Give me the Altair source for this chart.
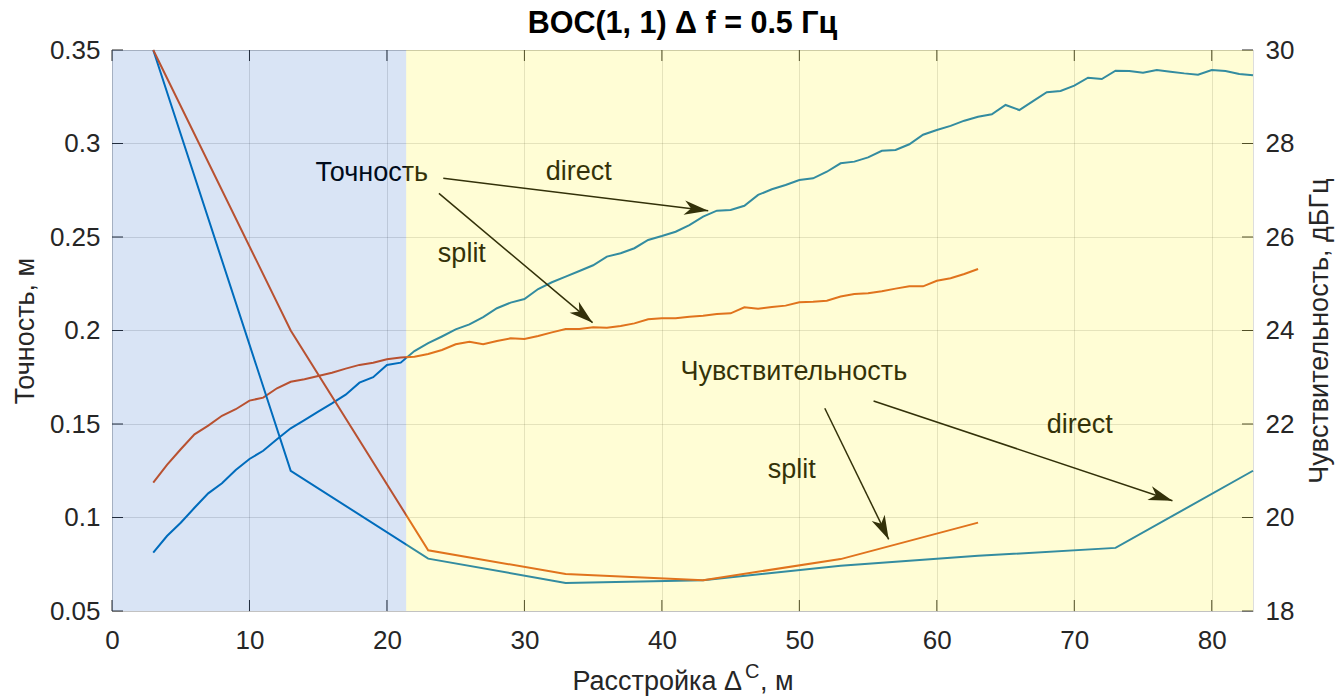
import math
import altair as alt
import pandas as pd

W, H = 1141, 561
FONT = "Liberation Sans"

# ---------------- data ----------------
acc_x_direct = list(range(3, 84))
acc_direct = [
    0.0812, 0.0901, 0.0972, 0.1052, 0.1129, 0.1183, 0.1254, 0.1313, 0.1357, 0.1418,
    0.1477, 0.1521, 0.1566, 0.1610, 0.1657, 0.1721, 0.1750, 0.1816, 0.1828, 0.1890,
    0.1932, 0.1968, 0.2006, 0.2033, 0.2072, 0.2119, 0.2149, 0.2168, 0.2222, 0.2258,
    0.2288, 0.2318, 0.2349, 0.2395, 0.2413, 0.2440, 0.2484, 0.2505, 0.2528, 0.2564,
    0.2609, 0.2641, 0.2644, 0.2667, 0.2725, 0.2755, 0.2778, 0.2805, 0.2814, 0.2849,
    0.2894, 0.2903, 0.2926, 0.2961, 0.2965, 0.2996, 0.3047, 0.3072, 0.3094, 0.3122,
    0.3143, 0.3156, 0.3206, 0.3179, 0.3227, 0.3274, 0.3281, 0.3309, 0.3352, 0.3345,
    0.3389, 0.3388, 0.3379, 0.3393, 0.3384, 0.3375, 0.3368, 0.3393, 0.3388, 0.3372,
    0.3365,
]
acc_x_split = list(range(3, 64))
acc_split = [
    0.1186, 0.1281, 0.1365, 0.1445, 0.1491, 0.1544, 0.1579, 0.1625, 0.1641, 0.1691,
    0.1726, 0.1739, 0.1757, 0.1774, 0.1796, 0.1816, 0.1828, 0.1846, 0.1855, 0.1860,
    0.1874, 0.1896, 0.1926, 0.1940, 0.1926, 0.1944, 0.1958, 0.1955, 0.1971, 0.1990,
    0.2008, 0.2008, 0.2017, 0.2015, 0.2024, 0.2038, 0.2060, 0.2065, 0.2065, 0.2074,
    0.2079, 0.2088, 0.2092, 0.2124, 0.2117, 0.2126, 0.2133, 0.2151, 0.2154, 0.2159,
    0.2182, 0.2195, 0.2199, 0.2210, 0.2224, 0.2236, 0.2236, 0.2266, 0.2279, 0.2302,
    0.2329,
]
sens_x_direct = [3, 13, 23, 33, 43, 53, 63, 73, 83]
sens_direct = [30.0, 21.0, 19.12, 18.6, 18.66, 18.97, 19.18, 19.35, 21.0]
sens_x_split = [3, 13, 23, 33, 43, 53, 63]
sens_split = [30.0, 24.0, 19.3, 18.79, 18.66, 19.11, 19.89]

region_start = [0.0, 21.4]
region_end = [21.4, 83.0]
region_color = ["#024bbc", "#fff52d"]
region_opacity = [0.15, 0.2]

x_ticks = [0, 10, 20, 30, 40, 50, 60, 70, 80]
yl_ticks = [0.05, 0.1, 0.15, 0.2, 0.25, 0.3, 0.35]
yr_ticks = [18, 20, 22, 24, 26, 28, 30]

ann_text = ["Точность", "direct", "split", "Чувствительность", "split", "direct"]
ann_x = [18.9, 33.96, 25.45, 49.6, 49.45, 70.4]
ann_y = [0.2842, 0.2848, 0.2409, 0.1778, 0.1254, 0.1495]

arr_x1 = [24.1, 23.78, 51.85, 55.4]
arr_y1 = [0.2814, 0.2733, 0.1584, 0.1623]
arr_x2 = [43.37, 34.96, 56.5, 77.14]
arr_y2 = [0.2641, 0.2042, 0.0883, 0.1090]

title_text = "BOC(1, 1) Δ f = 0.5 Гц"

# ---------------- scales / axes ----------------
X_DOM = [0, 83]
YL_DOM = [0.05, 0.35]
YR_DOM = [18, 30]
xscale = alt.Scale(domain=X_DOM, nice=False, zero=False)
ylscale = alt.Scale(domain=YL_DOM, nice=False, zero=False)
yrscale = alt.Scale(domain=YR_DOM, nice=False, zero=False)

xaxis = alt.Axis(values=x_ticks, title=None, grid=True, gridColor="#262626",
                 gridOpacity=0.15, domain=False, ticks=False, tickSize=0,
                 labelPadding=16, labelFontSize=26, labelFont=FONT,
                 labelColor="#262626", format="d", labelFlush=False)
ylaxis = alt.Axis(values=yl_ticks, title="Точность, м", orient="left", grid=True,
                  gridColor="#262626", gridOpacity=0.15, domain=False, ticks=False,
                  tickSize=0, labelPadding=12, labelFontSize=26, labelFont=FONT,
                  labelColor="#262626", format="~g", labelFlush=False, titleFont=FONT,
                  titleFontSize=27, titleFontWeight="normal", titleColor="#262626",
                  titlePadding=10)
yraxis = alt.Axis(values=yr_ticks, title="Чувствительность, дБГц", orient="right",
                  grid=False, domain=False, ticks=False, tickSize=0, labelPadding=12,
                  labelFontSize=26, labelFont=FONT, labelColor="#262626", format="d",
                  labelFlush=False, titleFont=FONT, titleFontSize=27,
                  titleFontWeight="normal", titleColor="#262626", titlePadding=13,
                  titleAngle=270, titleBaseline="top")


def X(field):
    return alt.X(field, type="quantitative", scale=xscale, axis=xaxis)


def YL(field):
    return alt.Y(field, type="quantitative", scale=ylscale, axis=ylaxis)


def YR(field):
    return alt.Y(field, type="quantitative", scale=yrscale, axis=yraxis)


BLUE = "#0072BD"
ORANGE = "#D95319"

df_acc_d = pd.DataFrame({"x": acc_x_direct, "y": acc_direct})
df_acc_s = pd.DataFrame({"x": acc_x_split, "y": acc_split})
df_sen_d = pd.DataFrame({"x": sens_x_direct, "y": sens_direct})
df_sen_s = pd.DataFrame({"x": sens_x_split, "y": sens_split})

line_acc_d = alt.Chart(df_acc_d).mark_line(color=BLUE, strokeWidth=2).encode(x=X("x"), y=YL("y"))
line_acc_s = alt.Chart(df_acc_s).mark_line(color=ORANGE, strokeWidth=2).encode(x=X("x"), y=YL("y"))

df_ann = pd.DataFrame({"t": ann_text, "x": ann_x, "y": ann_y})
ann = alt.Chart(df_ann).mark_text(font=FONT, fontSize=27, color="black",
                                  align="center", baseline="middle").encode(
    x=X("x"), y=YL("y"), text="t:N")

angles = []
for sx, sy, ex, ey in zip(arr_x1, arr_y1, arr_x2, arr_y2):
    dxp = (ex - sx) * W / (X_DOM[1] - X_DOM[0])
    dyp = -(ey - sy) * H / (YL_DOM[1] - YL_DOM[0])
    angles.append((math.degrees(math.atan2(dxp, -dyp)) + 360) % 360)
df_arr = pd.DataFrame({"x1": arr_x1, "y1": arr_y1, "x2": arr_x2, "y2": arr_y2, "ang": angles})
shafts = alt.Chart(df_arr).mark_rule(color="black", strokeWidth=1.5).encode(
    x=X("x1"), y=YL("y1"), x2="x2:Q", y2="y2:Q")
heads = alt.Chart(df_arr).mark_point(
    shape="M0,0 L0.3,1 L0,0.72 L-0.3,1 Z", filled=True, size=2304, opacity=1,
    color="black", strokeWidth=0).encode(
    x=X("x2"), y=YL("y2"), angle=alt.Angle("ang:Q", scale=None))

# inward ticks
TL = 11
df_xt = pd.DataFrame({"v": x_ticks})
df_yt = pd.DataFrame({"v": yl_ticks})
tick_top = alt.Chart(df_xt).mark_rule(color="#262626").encode(
    x=X("v"), y=alt.value(0), y2=alt.value(TL))
tick_bot = alt.Chart(df_xt).mark_rule(color="#262626").encode(
    x=X("v"), y=alt.value(H - TL), y2=alt.value(H))
tick_left = alt.Chart(df_yt).mark_rule(color="#262626").encode(
    y=YL("v"), x=alt.value(0), x2=alt.value(TL))
tick_right = alt.Chart(df_yt).mark_rule(color="#262626").encode(
    y=YL("v"), x=alt.value(W - TL), x2=alt.value(W))

# x-axis title with superscript, and chart title
df_one = pd.DataFrame({"a": [0]})
xt1 = alt.Chart(df_one).mark_text(text="Расстройка Δ", font=FONT, fontSize=27,
                                  color="#262626", align="right",
                                  baseline="alphabetic").encode(
    x=alt.value(630), y=alt.value(640))
xt2 = alt.Chart(df_one).mark_text(text="C", font=FONT, fontSize=20,
                                  color="#262626", align="left",
                                  baseline="alphabetic").encode(
    x=alt.value(633), y=alt.value(628))
xt3 = alt.Chart(df_one).mark_text(text=", м", font=FONT, fontSize=27,
                                  color="#262626", align="left",
                                  baseline="alphabetic").encode(
    x=alt.value(648), y=alt.value(640))
ttl = alt.Chart(df_one).mark_text(text=title_text, font=FONT, fontSize=30.5,
                                  fontWeight="bold", color="black", align="center",
                                  baseline="alphabetic").encode(
    x=alt.value(W / 2), y=alt.value(-17))

left = alt.layer(line_acc_d, line_acc_s, ann, shafts, heads,
                 tick_top, tick_bot, tick_left, tick_right, xt1, xt2, xt3, ttl)

line_sen_d = alt.Chart(df_sen_d).mark_line(color=BLUE, strokeWidth=2).encode(x=X("x"), y=YR("y"))
line_sen_s = alt.Chart(df_sen_s).mark_line(color=ORANGE, strokeWidth=2).encode(x=X("x"), y=YR("y"))
right = alt.layer(line_sen_d, line_sen_s)

df_reg = pd.DataFrame({"s": region_start, "e": region_end, "c": region_color,
                       "o": region_opacity})
overlay = alt.Chart(df_reg).mark_rect(strokeWidth=0).encode(
    x=X("s"), x2="e:Q", y=alt.value(0), y2=alt.value(H),
    color=alt.Color("c:N", scale=None), opacity=alt.Opacity("o:Q", scale=None))

chart = alt.layer(left, right, overlay).resolve_scale(y="independent").properties(
    width=W, height=H,
    autosize=alt.AutoSizeParams(type="none"),
    padding={"left": 112, "top": 50, "right": 85, "bottom": 86},
).configure_view(stroke="#262626", strokeWidth=1).configure(background="white")

chart.save("out.html", embed_options={"renderer": "svg", "actions": False})
